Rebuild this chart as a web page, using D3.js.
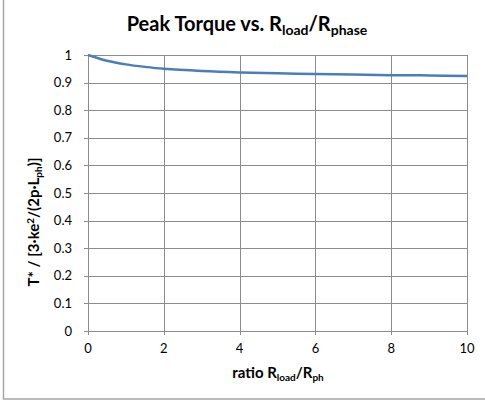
<!DOCTYPE html>
<html lang="en">
<head>
  <meta charset="UTF-8">
  <script src="https://cdn.jsdelivr.net/npm/d3@7"></script>
  <title>Peak Torque</title>
  <style>
    body { margin: 0; background: #fff; }
    text { font-family: Lato, "Open Sans", sans-serif; fill: #000; }
  </style>
</head>
<body>
  <svg width="485" height="404" id="chart"></svg>
  <script>
    // data
    let ratio  = [0, 0.25, 0.5, 1, 1.5, 2, 3, 4, 5, 6, 7, 8, 9, 10];
    let torque = [1, 0.989, 0.979, 0.966, 0.957, 0.950, 0.942, 0.937, 0.934, 0.931, 0.929, 0.927, 0.926, 0.924];
    let xTicks = [0, 2, 4, 6, 8, 10];
    let yTicks = [0, 0.1, 0.2, 0.3, 0.4, 0.5, 0.6, 0.7, 0.8, 0.9, 1];

    let svg = d3.select("#chart");

    // outer frame (only left and bottom edges are in view)
    svg.append("rect")
      .attr("x", 3.5).attr("y", -10)
      .attr("width", 500).attr("height", 409)
      .attr("fill", "none")
      .attr("stroke", "#a6a6a6")
      .attr("stroke-width", 1.5);

    let plotL = 88, plotR = 467, plotT = 55, plotB = 331;

    let scaleX = d3.scaleLinear().domain([0, 10]).range([plotL, plotR]);
    let scaleY = d3.scaleLinear().domain([0, 1]).range([plotB, plotT]);

    // gridlines
    svg.append("g").selectAll("line")
      .data(yTicks)
      .enter().append("line")
      .attr("x1", plotL).attr("x2", plotR)
      .attr("y1", d => Math.round(scaleY(d)) + 0.5)
      .attr("y2", d => Math.round(scaleY(d)) + 0.5)
      .attr("stroke", "#8c8c8c");

    svg.append("g").selectAll("line")
      .data(xTicks)
      .enter().append("line")
      .attr("x1", d => Math.round(scaleX(d)) + 0.5)
      .attr("x2", d => Math.round(scaleX(d)) + 0.5)
      .attr("y1", plotT).attr("y2", plotB + 4)
      .attr("stroke", "#8c8c8c");

    // left tick marks
    svg.append("g").selectAll("line")
      .data(yTicks)
      .enter().append("line")
      .attr("x1", plotL - 4).attr("x2", plotL)
      .attr("y1", d => Math.round(scaleY(d)) + 0.5)
      .attr("y2", d => Math.round(scaleY(d)) + 0.5)
      .attr("stroke", "#8c8c8c");

    // tick labels
    svg.append("g").selectAll("text")
      .data(yTicks)
      .enter().append("text")
      .attr("x", plotL - 16)
      .attr("y", d => scaleY(d) + 4.5)
      .attr("text-anchor", "end")
      .style("font-size", "13px")
      .text(d => d);

    svg.append("g").selectAll("text")
      .data(xTicks)
      .enter().append("text")
      .attr("x", d => scaleX(d))
      .attr("y", plotB + 22)
      .attr("text-anchor", "middle")
      .style("font-size", "13px")
      .text(d => d);

    // curve
    let line = d3.line()
      .x((d, i) => scaleX(ratio[i]))
      .y(d => scaleY(d))
      .curve(d3.curveCatmullRom);

    svg.append("path")
      .datum(torque)
      .attr("d", line)
      .attr("fill", "none")
      .attr("stroke", "#4a7ebb")
      .attr("stroke-width", 2.5);

    // title
    let title = svg.append("text")
      .attr("x", 247).attr("y", 31)
      .attr("text-anchor", "middle")
      .style("font-size", "20px")
      .style("font-weight", "bold");
    title.append("tspan").text("Peak Torque vs. R");
    title.append("tspan").text("load").attr("dy", 4).style("font-size", "14px");
    title.append("tspan").text("/R").attr("dy", -4);
    title.append("tspan").text("phase").attr("dy", 4).style("font-size", "14px");

    // x axis title
    let xt = svg.append("text")
      .attr("x", 278).attr("y", 378)
      .attr("text-anchor", "middle")
      .style("font-size", "15px")
      .style("font-weight", "bold");
    xt.append("tspan").text("ratio R");
    xt.append("tspan").text("load").attr("dy", 3).style("font-size", "10px");
    xt.append("tspan").text("/R").attr("dy", -3);
    xt.append("tspan").text("ph").attr("dy", 3).style("font-size", "10px");

    // y axis title
    let yt = svg.append("text")
      .attr("transform", "translate(39,222) rotate(-90)")
      .attr("text-anchor", "middle")
      .style("font-size", "15px")
      .style("font-weight", "bold");
    yt.append("tspan").text("T* / [3·ke");
    yt.append("tspan").text("2").attr("dy", -5).style("font-size", "10px");
    yt.append("tspan").text("/(2p·L").attr("dy", 5);
    yt.append("tspan").text("ph").attr("dy", 3).style("font-size", "10px");
    yt.append("tspan").text(")]").attr("dy", -3);
  </script>
</body>
</html>
